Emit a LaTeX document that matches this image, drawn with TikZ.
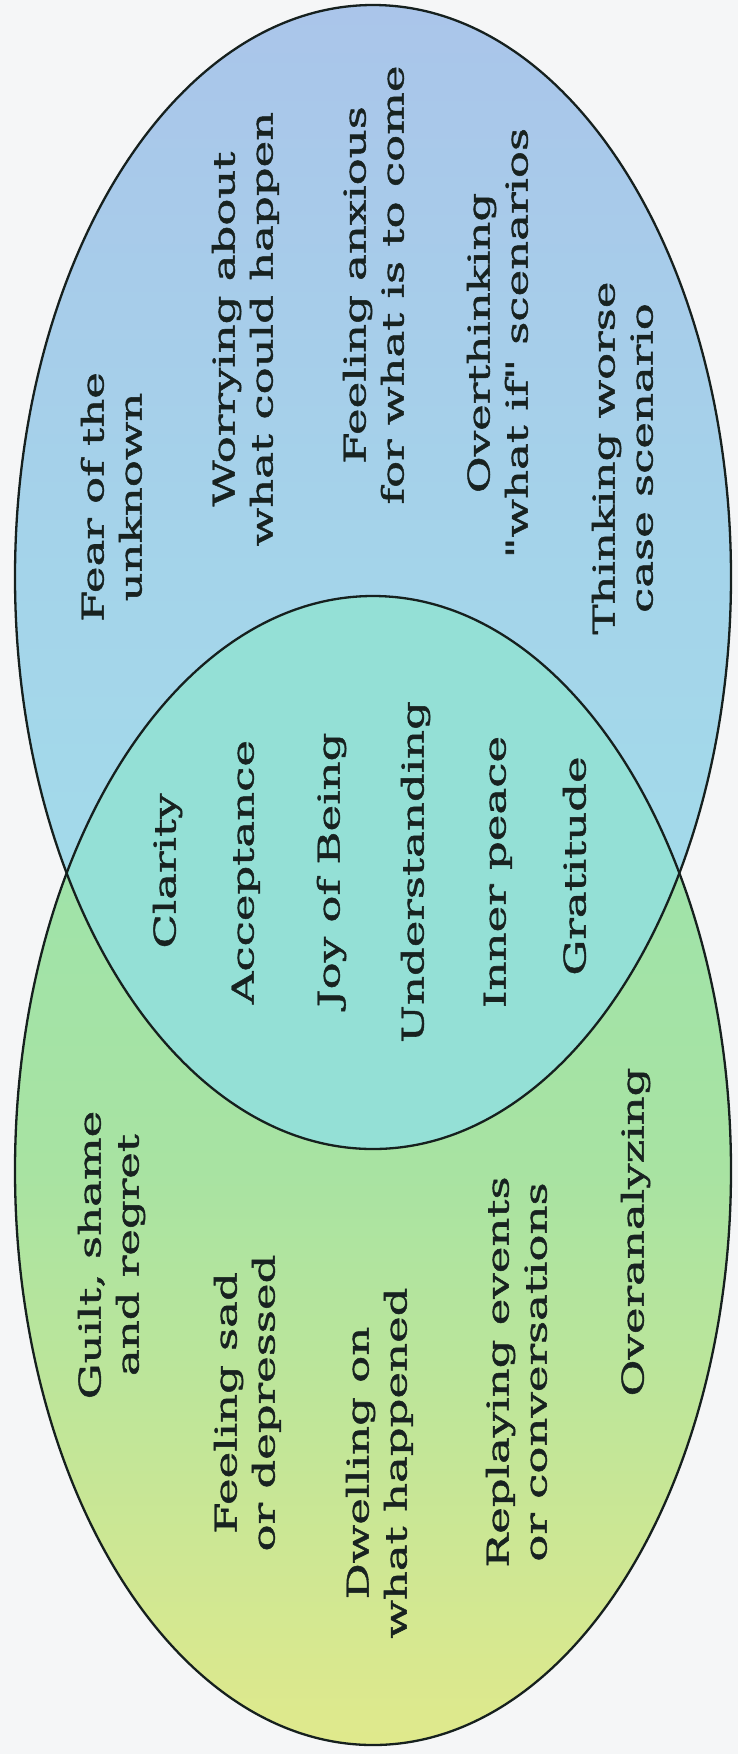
\documentclass[tikz,border=0pt]{standalone}
\usepackage{fontspec}
\newfontfamily\vfont{DejaVu Serif}[FakeBold=1.2]
\definecolor{bgc}{RGB}{245,246,247}
\definecolor{topA}{RGB}{170,197,234}
\definecolor{topB}{RGB}{164,212,234}
\definecolor{topC}{RGB}{162,224,234}
\definecolor{lensc}{RGB}{148,224,214}
\definecolor{botA}{RGB}{152,226,176}
\definecolor{botB}{RGB}{168,227,162}
\definecolor{botC}{RGB}{224,233,140}
\definecolor{linec}{RGB}{22,32,30}
\definecolor{txtc}{RGB}{24,34,32}
\newcommand{\vtext}[1]{\scalebox{1.5}[1]{\begin{tabular}{@{}c@{}}#1\end{tabular}}}
\begin{document}
\begin{tikzpicture}[x=1pt,y=-1pt,
  lbl/.style={rotate=90, inner sep=0pt, text=txtc, font=\vfont\fontsize{30}{38}\selectfont},
  outline/.style={draw=linec, line width=2.3pt}]
\useasboundingbox (0,0) rectangle (738,1754);
\fill[bgc] (0,0) rectangle (738,1754);
% ellipses
\shade[top color=topA, bottom color=topC, middle color=topB] (373,577) ellipse [x radius=358, y radius=572];
\shade[top color=botA, bottom color=botC, middle color=botB] (373,1170.5) ellipse [x radius=358, y radius=574.5];
\begin{scope}
  \clip (373,577) ellipse [x radius=358, y radius=572];
  \fill[lensc] (373,1170.5) ellipse [x radius=358, y radius=574.5];
\end{scope}
\draw[outline] (373,577) ellipse [x radius=358, y radius=572];
\draw[outline] (373,1170.5) ellipse [x radius=358, y radius=574.5];
% top (future)
\node[lbl] (t1) at (115,497) {\vtext{Fear of the\\unknown}};
\node[lbl] (t2) at (246,329) {\vtext{Worrying about\\what could happen}};
\node[lbl] (t3) at (377,285) {\vtext{Feeling anxious\\for what is to come}};
\node[lbl] (t4) at (501,343) {\vtext{Overthinking\\"what if" scenarios}};
\node[lbl] (t5) at (626,458) {\vtext{Thinking worse\\case scenario}};
% lens (present)
\node[lbl] (m1) at (168,871) {\vtext{Clarity}};
\node[lbl] (m2) at (246,872) {\vtext{Acceptance}};
\node[lbl] (m3) at (332,870) {\vtext{Joy of Being}};
\node[lbl] (m4) at (416,872) {\vtext{Understanding}};
\node[lbl] (m5) at (498,872) {\vtext{Inner peace}};
\node[lbl] (m6) at (578,866) {\vtext{Gratitude}};
% bottom (past)
\node[lbl] (b1) at (112,1255) {\vtext{Guilt, shame\\and regret}};
\node[lbl] (b2) at (248,1403) {\vtext{Feeling sad\\or depressed}};
\node[lbl] (b3) at (380,1463) {\vtext{Dwelling on\\what happened}};
\node[lbl] (b4) at (520,1372) {\vtext{Replaying events\\or conversations}};
\node[lbl] (b5) at (636,1232) {\vtext{Overanalyzing}};
\end{tikzpicture}
\end{document}
